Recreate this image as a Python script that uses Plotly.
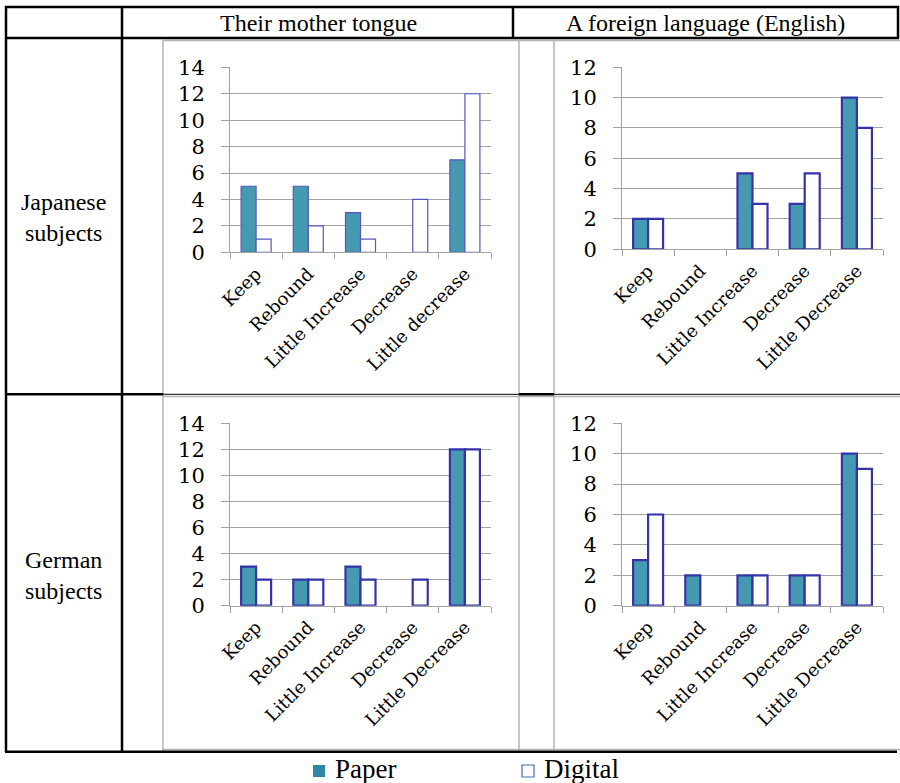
import plotly.graph_objects as go

W, H = 900, 783

# ---- data -------------------------------------------------------------
col_titles = ["Their mother tongue", "A foreign language (English)"]
row_titles = ["Japanese<br>subjects", "German<br>subjects"]

cats_jp_mother = ["Keep", "Rebound", "Little Increase", "Decrease", "Little decrease"]
cats_other = ["Keep", "Rebound", "Little Increase", "Decrease", "Little Decrease"]

jp_mother_paper = [5, 5, 3, 0, 7]
jp_mother_digital = [1, 2, 1, 4, 12]

jp_english_paper = [2, 0, 5, 3, 10]
jp_english_digital = [2, 0, 3, 5, 8]

de_mother_paper = [3, 2, 3, 0, 12]
de_mother_digital = [2, 2, 2, 2, 12]

de_english_paper = [3, 2, 2, 2, 10]
de_english_digital = [6, 0, 2, 2, 9]

y_max = [14, 12, 14, 12]

# ---- styling ----------------------------------------------------------
PAPER_FILL = "#4599b0"
OUTLINE = "#3434a6"
OUTLINE_LIGHT = "#5656c2"
GRID = "#a3a3a3"
FRAME = "#b4b4b4"
SERIF = "Liberation Serif"
CHART_FONT = "DejaVu Serif"


def px(x):
    return x / W


def py(y):
    return 1 - y / H


panels = [
    # (categories, paper, digital, x-range px, y-range px (zero, top), outline, width)
    (cats_jp_mother, jp_mother_paper, jp_mother_digital, (230, 491), (252.3, 67.3), OUTLINE_LIGHT, 1.2),
    (cats_other, jp_english_paper, jp_english_digital, (622, 883), (249.3, 67.3), OUTLINE, 2.2),
    (cats_other, de_mother_paper, de_mother_digital, (230, 491), (605.7, 423.3), OUTLINE, 2.2),
    (cats_other, de_english_paper, de_english_digital, (622, 883), (605.7, 423.3), OUTLINE, 2.2),
]

fig = go.Figure()
layout = {}

for i, (cats, paper, digital, (x0, x1), (yz, yt), oc, ow) in enumerate(panels):
    n = "" if i == 0 else str(i + 1)
    xa, ya = "x" + n, "y" + n
    fig.add_trace(go.Bar(
        x=cats, y=paper, name="Paper", xaxis=xa, yaxis=ya,
        marker=dict(color=PAPER_FILL,
                    line=dict(color=oc, width=[0 if v == 0 else ow for v in paper])),
        showlegend=False,
    ))
    fig.add_trace(go.Bar(
        x=cats, y=digital, name="Digital", xaxis=xa, yaxis=ya,
        marker=dict(color="white",
                    line=dict(color=oc, width=[0 if v == 0 else ow for v in digital])),
        showlegend=False,
    ))
    layout["xaxis" + n] = dict(
        domain=[px(x0), px(x1)], anchor=ya, automargin=False,
        type="category", categoryorder="array", categoryarray=cats,
        showline=True, linecolor=GRID, linewidth=1,
        ticks="outside", tickson="boundaries", ticklen=6, tickcolor=GRID,
        tickangle=-45, showgrid=False, zeroline=False,
        ticklabelstandoff=3,
        tickfont=dict(family=CHART_FONT, size=18, color="black"),
        fixedrange=True,
    )
    layout["yaxis" + n] = dict(
        domain=[py(yz), py(yt)], anchor=xa, automargin=False,
        range=[0, y_max[i]], dtick=2,
        showline=True, linecolor=GRID, linewidth=1,
        showgrid=True, gridcolor=GRID, gridwidth=1, zeroline=False,
        ticks="outside", ticklen=8, tickcolor=GRID,
        ticklabelstandoff=12,
        tickfont=dict(family=CHART_FONT, size=21, color="black"),
        fixedrange=True,
    )

# ---- table rules and chart frames -------------------------------------
shapes = []


def line(x0, y0, x1, y1, color, width):
    shapes.append(dict(type="line", xref="paper", yref="paper",
                       x0=px(x0), y0=py(y0), x1=px(x1), y1=py(y1),
                       line=dict(color=color, width=width), layer="above"))


# chart frames (grey)
for x in (163, 519, 554):
    line(x, 40, x, 751, FRAME, 1.5)
line(163, 40.5, 900, 40.5, FRAME, 1.5)
line(163, 396.5, 900, 396.5, FRAME, 1.5)
line(163, 749.5, 900, 749.5, FRAME, 1.5)

# black table rules
line(5, 7, 899, 7, "black", 2.5)
line(5, 38, 899, 38, "black", 2.5)
line(6, 6, 6, 752, "black", 2.5)
line(122, 6, 122, 752, "black", 2.5)
line(513, 6, 513, 38, "black", 2.5)
line(898, 6, 898, 38, "black", 2.5)
line(5, 394.3, 163, 394.3, "black", 2.5)
line(163, 394.3, 900, 394.3, "#333333", 1.2)
line(519, 394.3, 554, 394.3, "black", 2.5)
line(5, 751.7, 897, 751.7, "black", 2.5)

# legend keys
shapes.append(dict(type="rect", xref="paper", yref="paper",
                   x0=px(313), x1=px(325), y0=py(777), y1=py(765),
                   fillcolor="#2f87a1", line=dict(width=0)))
shapes.append(dict(type="rect", xref="paper", yref="paper",
                   x0=px(522), x1=px(534), y0=py(777), y1=py(765),
                   fillcolor="white", line=dict(color="#4a6aa0", width=1.2)))

# ---- text -------------------------------------------------------------
annotations = []


def text(s, x, y, size, xanchor="center"):
    annotations.append(dict(text=s, x=px(x), y=py(y), xref="paper", yref="paper",
                            xanchor=xanchor, yanchor="middle", showarrow=False,
                            font=dict(family=SERIF, size=size, color="black")))


text(col_titles[0], 318, 23, 24)
text(col_titles[1], 705, 23, 24)
text(row_titles[0], 63, 218, 24)
text(row_titles[1], 63, 575, 24)
text("Paper", 333, 769, 27, xanchor="left")
text("Digital", 542, 769, 27, xanchor="left")

fig.update_layout(
    width=W, height=H, autosize=False,
    margin=dict(l=0, r=0, t=0, b=0, autoexpand=False),
    paper_bgcolor="white", plot_bgcolor="white",
    barmode="group", bargap=0.425, bargroupgap=0,
    shapes=shapes, annotations=annotations,
    **layout,
)

fig.write_html("out.html")
